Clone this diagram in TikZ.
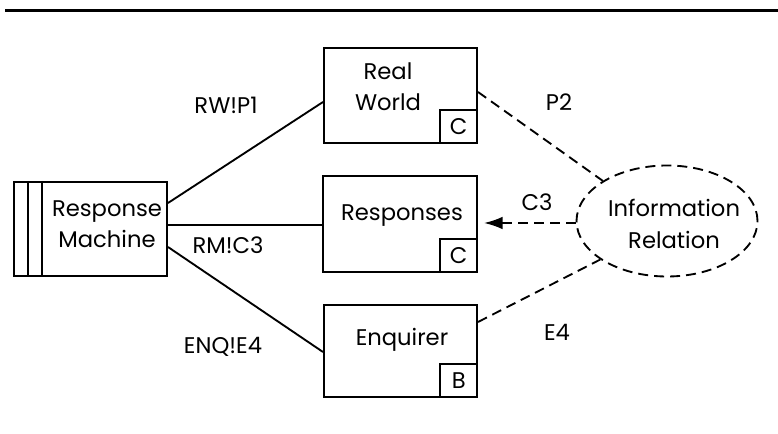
\documentclass[tikz,border=0pt]{standalone}
\usepackage{fontspec}
\setmainfont{Poppins}
\usetikzlibrary{shapes.geometric,arrows.meta,calc}
\begin{document}
\begin{tikzpicture}[x=0.75pt,y=-0.75pt,
  every node/.style={font=\fontsize{17pt}{23.5pt}\selectfont},
  bigbox/.style={draw,line width=1.5pt,inner sep=0pt},
  smallbox/.style={draw,line width=1.2pt,inner sep=0pt,minimum width=27.75pt,minimum height=25pt,anchor=south east},
  conn/.style={line width=1.4pt},
  dconn/.style={line width=1.4pt,dash pattern=on 7.5pt off 4.5pt},
  lbl/.style={inner sep=0pt}]
\useasboundingbox (0,0) rectangle (778,434);
\coordinate (tl) at (5,10.5);
\coordinate (tr) at (778,10.5);
\draw[line width=1.6pt] (tl) -- (tr);
% Response Machine
\node[bigbox,minimum width=114.75pt,minimum height=70.5pt] (rm) at (90.5,229) {};
\draw[line width=1.2pt] ($(rm.north west)+(15,0)$) coordinate (s1a) -- ($(rm.south west)+(15,0)$) coordinate (s1b);
\draw[line width=1.2pt] ($(rm.north west)+(29,0)$) coordinate (s2a) -- ($(rm.south west)+(29,0)$) coordinate (s2b);
\node[lbl,align=center] (rmtext) at (107,224) {Response\\Machine};
% Real World
\node[bigbox,minimum width=114.75pt,minimum height=71.25pt] (rw) at (400.5,95.5) {};
\node[lbl,align=center] (rwtext) at (388,87) {Real\\World};
\node[smallbox] (rwc) at (rw.south east) {C};
% Responses
\node[bigbox,minimum width=115.5pt,minimum height=72pt] (rs) at (400,224) {};
\node[lbl] (rstext) at (402,216) {Responses};
\node[smallbox] (rsc) at (rs.south east) {C};
% Enquirer
\node[bigbox,minimum width=114.75pt,minimum height=69pt] (en) at (400.5,351) {};
\node[lbl] (entext) at (402,340) {Enquirer};
\node[smallbox] (enb) at (en.south east) {B};
% Information Relation
\node[ellipse,draw,line width=1.4pt,dash pattern=on 7.5pt off 4.5pt,minimum width=135.75pt,minimum height=83.25pt,inner sep=0pt] (ir) at (667,221) {};
\node[lbl,align=center] (irtext) at (674,224) {Information\\Relation};
% connectors
\draw[conn] ($(rm.east)+(0,-26)$) -- ($(rw.west)+(0,6.5)$);
\draw[conn] ($(rm.east)+(0,-4)$) -- ($(rs.west)+(0,1)$);
\draw[conn] ($(rm.east)+(0,18)$) -- ($(en.west)+(0,1)$);
\draw[dconn] ($(rw.east)+(0,-3.5)$) -- (ir.148);
\draw[dconn] ($(en.east)+(0,-29)$) -- (ir.210);
\draw[dconn,-{Latex[length=14pt,width=9.5pt]},shorten >=4.5pt] ($(ir.west)+(0,2)$) -- ($(rs.east)+(0,-1)$);
% labels
\node[lbl] (l1) at (226,105) {RW!P1};
\node[lbl] (l2) at (228,245) {RM!C3};
\node[lbl] (l3) at (223,347) {ENQ!E4};
\node[lbl] (l4) at (559,102) {P2};
\node[lbl] (l5) at (537,202) {C3};
\node[lbl] (l6) at (557,332) {E4};
\end{tikzpicture}
\end{document}
